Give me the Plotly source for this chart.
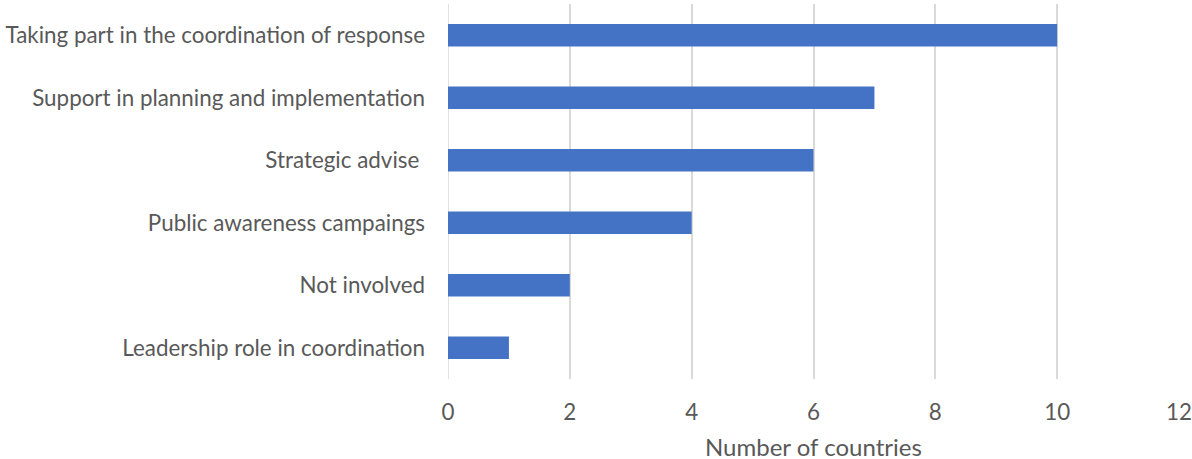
import plotly.graph_objects as go

# Roles of the health sector, number of countries reporting each
roles = [
    "Leadership role in coordination",
    "Not involved",
    "Public awareness campaings",
    "Strategic advise\u00a0",
    "Support in planning and implementation",
    "Taking part in the coordination of response",
]
countries = [1, 2, 4, 6, 7, 10]
x_ticks = [0, 2, 4, 6, 8, 10, 12]
x_title = "Number of countries"

FONT = "Lato"
TEXT = "#595959"

fig = go.Figure(
    go.Bar(
        x=countries,
        y=roles,
        orientation="h",
        marker=dict(color="#4472C4", line=dict(width=0)),
        width=0.36,
    )
)

fig.update_layout(
    width=1192,
    height=459,
    margin=dict(l=448, r=13, t=4, b=80),
    paper_bgcolor="white",
    plot_bgcolor="white",
    showlegend=False,
    font=dict(family=FONT, size=22.4, color=TEXT),
)

fig.update_xaxes(
    range=[0, 12],
    tickvals=x_ticks,
    automargin=False,
    showgrid=True,
    gridcolor="#d9d9d9",
    gridwidth=1.5,
    zeroline=False,
    showline=False,
    ticks="",
    ticklabelstandoff=18,
    tickfont=dict(family=FONT, size=22.4, color=TEXT),
)
fig.update_yaxes(
    automargin=False,
    showgrid=False,
    zeroline=False,
    showline=False,
    ticks="",
    ticklabelstandoff=22,
    tickfont=dict(family=FONT, size=22.4, color=TEXT),
)

# x-axis title placed below the tick labels
fig.add_annotation(
    text=x_title,
    xref="x domain", yref="y domain",
    x=0.5, y=0,
    xanchor="center", yanchor="middle",
    yshift=-67,
    borderpad=0,
    showarrow=False,
    font=dict(family=FONT, size=24, color=TEXT),
)

# vertical line at zero
fig.add_vline(x=0, line=dict(color="#d9d9d9", width=1.5), layer="below")

fig.write_html("out.html")
